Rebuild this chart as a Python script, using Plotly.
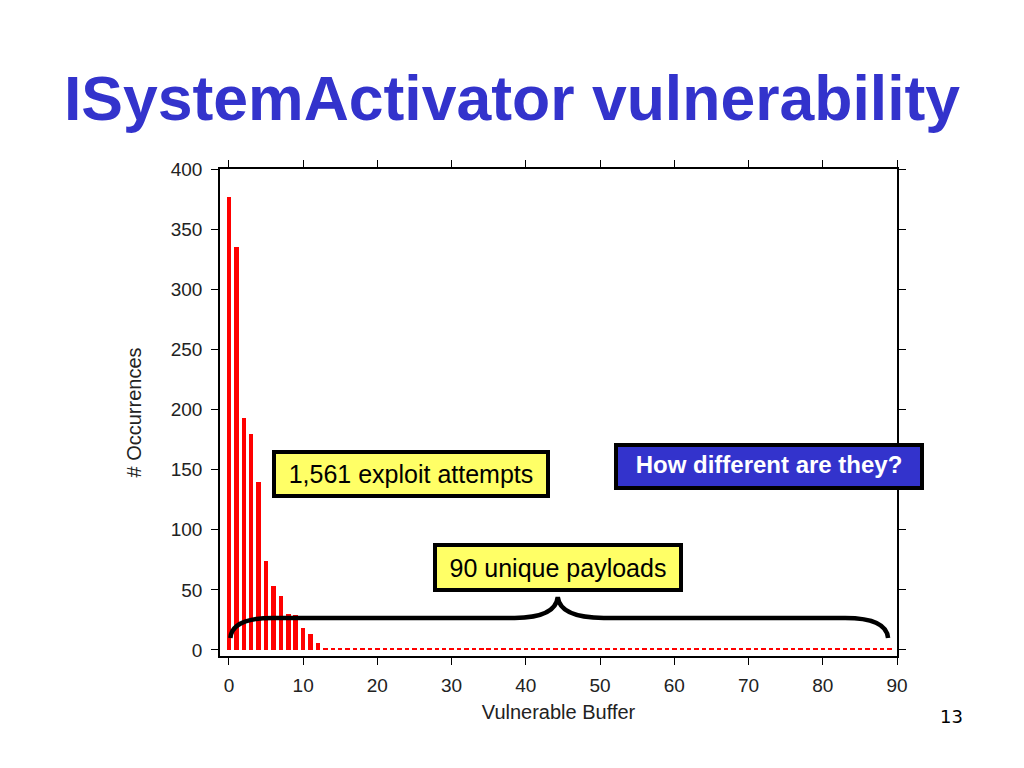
import plotly.graph_objects as go

# ---- data ----
buffer_ids = list(range(90))
occurrences = [377, 335, 193, 180, 140, 74, 53, 45, 30, 29, 18, 13, 6,
               2, 1, 1, 1, 1, 1, 1, 1, 1, 1, 1, 1, 1, 1, 1, 1, 1,
               1, 1, 1, 1, 1, 1, 1, 1, 1, 1, 1, 1, 1, 1, 1, 1, 1, 1, 1, 1,
               1, 1, 1, 1, 1, 1, 1, 1, 1, 1, 1, 1, 1, 1, 1, 1, 1, 1, 1, 1,
               1, 1, 1, 1, 1, 1, 1, 1, 1, 1, 1, 1, 1, 1, 1, 1, 1, 1, 1, 1]
x_ticks = [0, 10, 20, 30, 40, 50, 60, 70, 80, 90]
y_ticks = [0, 50, 100, 150, 200, 250, 300, 350, 400]

title_text = "ISystemActivator vulnerability"
x_title = "Vulnerable Buffer"
y_title = "# Occurrences"

BLUE = "#3333CC"
YELLOW = "#FFFF66"
FONT = "Liberation Sans, Arial, sans-serif"

fig = go.Figure()
fig.add_trace(go.Bar(
    x=buffer_ids, y=occurrences, width=0.6,
    marker=dict(color="#FF0000", line=dict(width=0)),
    showlegend=False,
))

axis_common = dict(
    showline=True, linecolor="black", linewidth=1.5, mirror="ticks",
    ticks="outside", ticklen=7, tickcolor="black", tickwidth=1.2,
    showgrid=False, zeroline=False,
    tickfont=dict(family=FONT, size=19, color="#222222"),
)

fig.update_xaxes(range=[-1.2, 90], tickvals=x_ticks, ticklabelstandoff=4,
                 title=dict(text=x_title, font=dict(family=FONT, size=20, color="#222222"), standoff=10),
                 **axis_common)
fig.update_yaxes(range=[-5, 400], tickvals=y_ticks, ticklabelstandoff=5,
                 title=dict(text=y_title, font=dict(family=FONT, size=20, color="#222222"), standoff=24),
                 **axis_common)

# curly brace spanning all 90 buffers
fig.add_shape(
    type="path",
    path="M 0.2,10 Q 0.4,26.7 6,26.7 L 38.5,26.7 Q 44,26.7 44.3,44 "
         "Q 44.6,26.7 50.5,26.7 L 83,26.7 Q 88.6,26.7 88.8,10",
    line=dict(color="black", width=4.5), layer="above",
)

fig.add_annotation(x=24.5, y=146.5, xref="x", yref="y", text="1,561 exploit attempts",
                   showarrow=False, font=dict(family=FONT, size=25, color="black"),
                   bgcolor=YELLOW, bordercolor="black", borderwidth=4, borderpad=4,
                   width=262, height=32)
fig.add_annotation(x=72.7, y=153, xref="x", yref="y", text="<b>How different are they?</b>",
                   showarrow=False, font=dict(family=FONT, size=24, color="white"),
                   bgcolor=BLUE, bordercolor="black", borderwidth=4, borderpad=4,
                   width=294, height=31, valign="top")
fig.add_annotation(x=44.3, y=68.3, xref="x", yref="y", text="90 unique payloads",
                   showarrow=False, font=dict(family=FONT, size=25, color="black"),
                   bgcolor=YELLOW, bordercolor="black", borderwidth=4, borderpad=4,
                   width=234, height=33)

fig.add_annotation(x=1.081, y=-0.125, xref="paper", yref="paper", text="13",
                   xanchor="center", yanchor="middle",
                   showarrow=False, font=dict(family="DejaVu Sans, sans-serif", size=18, color="black"))

fig.update_layout(
    width=1024, height=768,
    margin=dict(l=220, r=127, t=169, b=112),
    paper_bgcolor="white", plot_bgcolor="white",
    title=dict(text="<b>" + title_text + "</b>", x=0.5, xanchor="center",
               y=1 - 98 / 768, yanchor="middle",
               font=dict(family=FONT, size=62.5, color=BLUE)),
    bargap=0,
)

fig.write_html("out.html", config={"displayModeBar": False},
               post_script="document.body.style.margin='0';")
